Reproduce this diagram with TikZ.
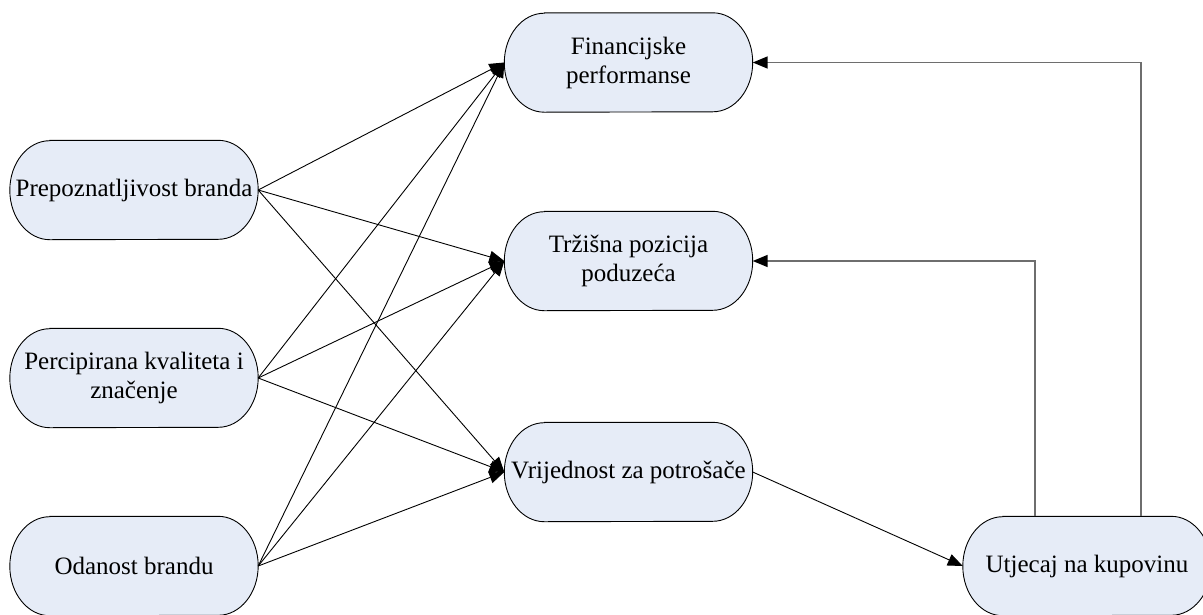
\documentclass[tikz,border=0pt]{standalone}
\usepackage{fontspec}
\setmainfont{Liberation Serif}
\newfontfamily\tnr{Liberation Serif}
\usetikzlibrary{arrows.meta,backgrounds,calc}
\definecolor{pillfill}{HTML}{E6ECF7}
\definecolor{linkgray}{HTML}{6E6E6E}
\newcommand\pillpath[1]{\filldraw[pill] ($(#1.north west)+(40,0)$) -- ($(#1.north east)+(-40,0)$) arc[start angle=90,end angle=-90,x radius=40,y radius=49.5] -- ($(#1.south west)+(40,0)$) arc[start angle=270,end angle=90,x radius=40,y radius=49.5] -- cycle;}
\begin{document}
\begin{tikzpicture}[x=1pt,y=1pt,
  box/.style={minimum width=248pt, minimum height=99pt, inner sep=0pt, align=center, font=\tnr\fontsize{25}{29}\selectfont},
  pill/.style={fill=pillfill, draw=black, line width=0.9pt},
  link/.style={draw=black, line width=0.9pt, -{Triangle[length=15pt,width=12pt]}},
  back/.style={draw=linkgray, line width=1.6pt, -{Triangle[length=15pt,width=12pt,color=black]}}]
\useasboundingbox (0,0) rectangle (1203,-614);
\node[box] (p1) at (134,-190) {Prepoznatljivost branda};
\node[box] (p2) at (134,-378) {Percipirana kvaliteta i\\značenje};
\node[box] (p3) at (134,-566) {Odanost brandu};
\node[box] (fin) at (628.5,-62.5) {Financijske\\performanse};
\node[box] (trz) at (628.5,-261) {Tržišna pozicija\\poduzeća};
\node[box] (vri) at (628.5,-472) {Vrijednost za potrošače};
\node[box] (utj) at (1087,-566) {Utjecaj na kupovinu};
\begin{pgfonlayer}{background}
\foreach \n in {p1,p2,p3,fin,trz,vri,utj} {\pillpath{\n}}
\end{pgfonlayer}
\foreach \s in {p1,p2,p3} {
  \foreach \t in {fin,trz,vri} {
    \draw[link] (\s.east) -- (\t.west);
  }
}
\draw[link] (vri.east) -- (utj.west);
\draw[back] ([xshift=-52pt]utj.north) |- (trz.east);
\draw[back] ([xshift=54pt]utj.north) |- (fin.east);
\end{tikzpicture}
\end{document}
